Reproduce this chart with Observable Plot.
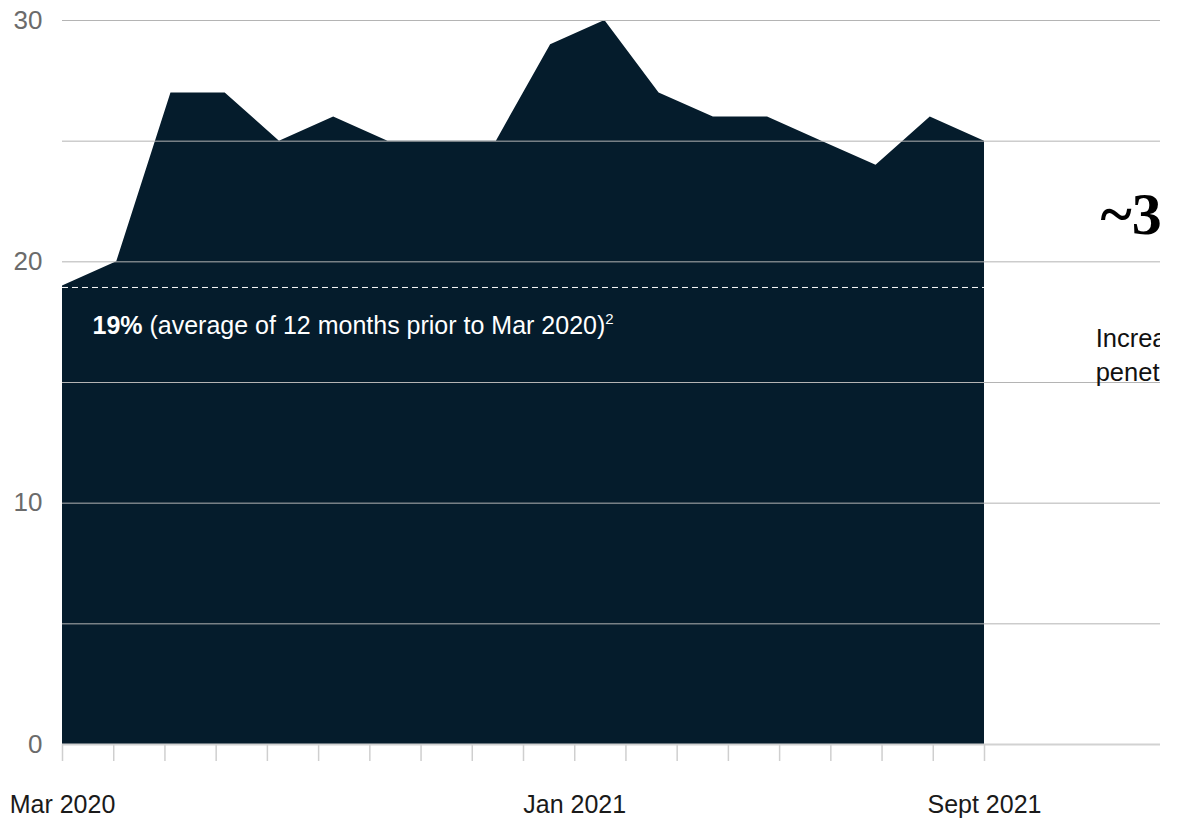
<!DOCTYPE html>
<html>
<head>
<meta charset="utf-8">
<script src="https://cdn.jsdelivr.net/npm/d3@7"></script>
<script src="https://cdn.jsdelivr.net/npm/@observablehq/plot@0.6"></script>
<style>
  body { margin: 0; background: #fff; }
  #chart svg { display: block; }
</style>
</head>
<body>
<div id="chart"></div>
<script>
// Monthly share values, Mar 2020 → Sept 2021 (as drawn)
const share = [19, 20, 27, 27, 25, 26, 25, 25, 25, 29, 30, 27, 26, 26, 25, 24, 26, 25];
const baseline = 19;
const baselineBold = "19%";
const baselineText = " (average of 12 months prior to Mar 2020)";
const baselineNote = "2";
// month ticks along the axis (19 ticks), with labels on three of them
const tickCount = 19;
const tickLabels = { 0: "Mar 2020", 10: "Jan 2021", 18: "Sept 2021" };
const yTickLabels = [0, 10, 20, 30];
const yGrid = [0, 5, 10, 15, 20, 25, 30];
const sideBig = "~30%";
const sideText = "Increase in e-commerce\npenetration";

const span = share.length - 1;
const xMax = span * (1160 - 62) / (984 - 62);
const tickPos = d3.range(tickCount).map(i => i * span / (tickCount - 1));
const tickIndex = new Map(tickPos.map((p, i) => [p, i]));
const rows = share.map((v, i) => ({ i, v }));

const svg = Plot.plot({
  width: 1160,
  height: 819,
  marginLeft: 62,
  marginRight: 0,
  marginTop: 20,
  marginBottom: 75,
  style: { fontFamily: "'Liberation Sans', Arial, sans-serif", fontSize: "26px", background: "#fff", overflow: "hidden" },
  x: { domain: [0, xMax], axis: null },
  y: { domain: [0, 30], axis: null },
  marks: [
    Plot.areaY(rows, { x: "i", y: "v", fill: "#051c2c" }),
    Plot.gridY(yGrid, { stroke: "#b4b4b4", strokeOpacity: 1, strokeWidth: 1 }),
    Plot.ruleY([0], { stroke: "#d2d2d2", strokeWidth: 2 }),
    Plot.ruleY([baseline], { x1: () => 0, x2: () => span, stroke: "#fff", strokeWidth: 1, strokeDasharray: "6,4", dy: 1.5 }),
    Plot.axisY(yTickLabels, { label: null, tickSize: 0, tickPadding: 20, fill: "#6b6b6b", fontSize: 26, textAnchor: "end" }),
    Plot.axisX(tickPos, {
      label: null, tickSize: 17, tickPadding: 34, stroke: "#cfcfcf", strokeWidth: 1.5, fill: "#1a1a1a", fontSize: 25,
      tickFormat: p => tickLabels[tickIndex.get(p)] ?? ""
    }),
    Plot.text([baselineBold], { x: () => 0.553, y: () => 17.03, text: d => d, textAnchor: "start", lineAnchor: "bottom", fill: "#fff", fontSize: 25 }),
    Plot.text([sideBig], { x: () => 19.14, y: () => 21.17, text: d => d, textAnchor: "start", lineAnchor: "bottom", fill: "#000", fontSize: 60, fontWeight: "bold", fontFamily: "'Liberation Serif', 'DejaVu Serif', serif" }),
    Plot.text([sideText], { x: () => 19.05, y: () => 15.05, text: d => d, textAnchor: "start", lineAnchor: "bottom", lineHeight: 1.34, fill: "#111", fontSize: 25.5 })
  ]
});

// rich text for the baseline annotation: bold value, regular text, superscript note
svg.querySelectorAll("text").forEach(t => {
  if (t.textContent === baselineBold) {
    t.textContent = "";
    const ns = "http://www.w3.org/2000/svg";
    const a = document.createElementNS(ns, "tspan");
    a.setAttribute("font-weight", "bold");
    a.textContent = baselineBold;
    const b = document.createElementNS(ns, "tspan");
    b.textContent = baselineText;
    const c = document.createElementNS(ns, "tspan");
    c.setAttribute("font-size", "15");
    c.setAttribute("dy", "-10");
    c.textContent = baselineNote;
    t.append(a, b, c);
  }
});

document.getElementById("chart").appendChild(svg);
</script>
</body>
</html>
